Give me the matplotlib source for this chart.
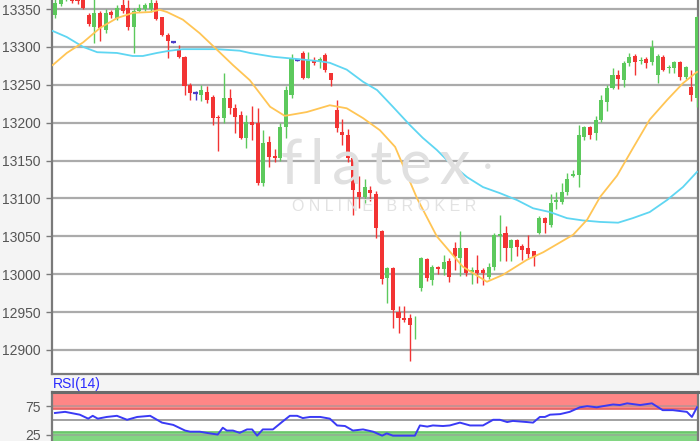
import matplotlib
matplotlib.use("Agg")
import matplotlib.pyplot as plt
import numpy as np

plt.rcParams['font.family'] = ['Liberation Sans', 'DejaVu Sans']

# candles (open / high / low / close), oldest first
opens = [13342, 13356, 13364, 13368, 13366, 13362, 13342, 13326, 13345, 13322,
         13346, 13338, 13355, 13351, 13326, 13348, 13350, 13350, 13358, 13339,
         13316, 13306, 13297, 13287, 13250, 13239, 13237, 13241, 13234, 13207,
         13206, 13233, 13220, 13210, 13180, 13201, 13199, 13120, 13175, 13156,
         13153, 13194, 13237, 13283, 13292, 13259, 13283, 13280, 13289, 13265,
         13217, 13188, 13184, 13153, 13108, 13102, 13111, 13106, 13057, 12995,
         13008, 12950, 12942, 12942, 12935, 12982, 13020, 12992, 13009, 13007,
         13018, 13035, 13021, 13034, 13003, 13006, 13005, 12996, 13010, 13050,
         13054, 13034, 13045, 13037, 13034, 13031, 13054, 13074, 13065, 13095,
         13095, 13109, 13130, 13131, 13181, 13194, 13186, 13203, 13227, 13246,
         13263, 13256, 13279, 13288, 13281, 13284, 13280, 13263, 13287, 13272,
         13272, 13280, 13260, 13247, 13232]
highs = [13368, 13370, 13378, 13372, 13369, 13364, 13345, 13365, 13348, 13350,
         13349, 13355, 13365, 13362, 13352, 13356, 13358, 13365, 13362, 13340,
         13318, 13307, 13302, 13288, 13252, 13242, 13250, 13249, 13236, 13210,
         13266, 13245, 13225, 13215, 13210, 13222, 13220, 13190, 13182, 13165,
         13199, 13248, 13290, 13284, 13294, 13293, 13287, 13287, 13292, 13266,
         13230, 13205, 13192, 13154, 13130, 13125, 13116, 13110, 13058, 13010,
         13009, 12958, 12958, 12948, 12945, 13023, 13021, 13012, 13011, 13026,
         13021, 13043, 13057, 13035, 13010, 13025, 13008, 13015, 13055, 13078,
         13063, 13046, 13046, 13040, 13052, 13031, 13077, 13076, 13106, 13108,
         13120, 13133, 13137, 13197, 13196, 13196, 13209, 13236, 13250, 13272,
         13270, 13281, 13292, 13291, 13287, 13287, 13309, 13291, 13289, 13276,
         13282, 13282, 13275, 13269, 13341]
lows = [13338, 13354, 13360, 13358, 13357, 13350, 13327, 13305, 13308, 13318,
        13338, 13335, 13345, 13322, 13292, 13346, 13347, 13346, 13335, 13314,
        13286, 13305, 13285, 13236, 13230, 13230, 13228, 13226, 13197, 13162,
        13200, 13212, 13186, 13178, 13166, 13177, 13118, 13116, 13141, 13148,
        13150, 13180, 13232, 13282, 13258, 13259, 13276, 13272, 13267, 13248,
        13188, 13170, 13148, 13078, 13088, 13094, 13096, 13048, 12987, 12962,
        12929, 12923, 12937, 12885, 12915, 12978, 12991, 12986, 13000, 12999,
        12990, 13006, 12998, 12998, 12987, 12988, 12986, 12994, 13006, 13018,
        13018, 13017, 13024, 13019, 13021, 13011, 13053, 13054, 13062, 13086,
        13093, 13105, 13128, 13115, 13177, 13178, 13177, 13201, 13216, 13244,
        13244, 13247, 13275, 13263, 13278, 13272, 13276, 13252, 13268, 13265,
        13265, 13256, 13258, 13229, 13221]
closes = [13358, 13364, 13370, 13361, 13360, 13352, 13330, 13345, 13325, 13345,
          13342, 13352, 13348, 13326, 13348, 13352, 13355, 13358, 13337, 13316,
          13308, 13306, 13287, 13248, 13239, 13239, 13243, 13230, 13206, 13206,
          13233, 13219, 13208, 13180, 13201, 13197, 13120, 13173, 13155, 13153,
          13194, 13243, 13285, 13283, 13259, 13283, 13279, 13284, 13269, 13256,
          13193, 13184, 13153, 13111, 13102, 13115, 13107, 13061, 12994, 13008,
          12953, 12942, 12940, 12933, 12936, 13021, 12995, 13009, 13007, 13016,
          12996, 13024, 13034, 13002, 13005, 13002, 13001, 13010, 13052, 13053,
          13034, 13045, 13036, 13032, 13027, 13023, 13074, 13068, 13094, 13098,
          13109, 13125, 13132, 13184, 13194, 13184, 13203, 13230, 13246, 13263,
          13258, 13279, 13287, 13280, 13283, 13279, 13300, 13288, 13270, 13274,
          13280, 13260, 13273, 13237, 13339]

# moving averages, sampled along the curves (x in candle units)
ma_fast_x = [-0.4, 2.1, 5.0, 8.0, 11.0, 13.9, 16.9, 18.6, 19.9, 22.7, 25.7, 28.8,
             31.6, 34.6, 38.2, 40.8, 44.7, 48.8, 51.8, 54.7, 57.7, 60.4, 64.3,
             67.8, 72.4, 76.7, 79.5, 83.8, 86.7, 92.0, 94.5, 96.8, 99.8, 102.6,
             105.6, 108.7, 111.5, 114.0]
ma_fast = [13276, 13292, 13306, 13325, 13338, 13345, 13346, 13349, 13346, 13336,
           13318, 13296, 13276, 13256, 13221, 13209, 13214, 13223, 13219, 13206,
           13190, 13168, 13100, 13050, 13010, 12990, 12999, 13019, 13029, 13052,
           13072, 13102, 13130, 13166, 13204, 13230, 13252, 13267]
ma_slow_x = [-0.4, 2.1, 5.0, 7.5, 11.0, 13.8, 15.6, 18.1, 20.4, 22.7, 28.8, 32.8,
             34.6, 38.7, 43.0, 47.1, 48.8, 51.8, 54.7, 57.2, 60.0, 63.0, 65.3,
             67.8, 70.1, 73.2, 76.0, 79.0, 82.0, 84.9, 87.9, 90.9, 93.7, 96.8,
             100.0, 102.6, 105.6, 108.7, 111.5, 114.0]
ma_slow = [13321, 13313, 13300, 13293, 13292, 13288, 13288, 13292, 13295, 13297,
           13297, 13295, 13292, 13287, 13284, 13281, 13279, 13270, 13254, 13243,
           13221, 13197, 13180, 13164, 13147, 13128, 13115, 13107, 13098, 13087,
           13082, 13074, 13071, 13069, 13068, 13074, 13082, 13098, 13115, 13135]

# RSI(14)
rsi_x = [0.0, 1.8, 4.4, 5.9, 6.7, 7.6, 9.2, 11.0, 12.8, 14.6, 16.9, 19.0, 21.0,
         23.1, 24.0, 25.7, 27.5, 28.9, 29.8, 30.5, 31.6, 32.8, 34.1, 35.0, 35.9,
         36.9, 38.7, 40.3, 41.7, 43.0, 44.0, 45.3, 47.1, 48.8, 50.1, 51.5, 52.9,
         54.7, 56.5, 58.1, 58.9, 60.0, 62.5, 63.9, 64.8, 66.1, 67.1, 68.9, 70.1,
         71.9, 73.7, 76.0, 77.8, 79.0, 80.3, 81.3, 83.8, 84.9, 86.1, 87.0, 87.9,
         89.7, 91.4, 93.2, 94.5, 96.2, 97.3, 99.1, 100.3, 101.6, 103.9, 106.0,
         107.9, 109.7, 112.2, 113.1, 114.0]
rsi_vals = [63, 65, 60, 53, 58, 53, 56, 58, 51, 56, 58, 46, 42, 32, 30, 30, 27, 25,
            37, 32, 32, 28, 34, 34, 23, 34, 34, 47, 58, 58, 54, 56, 56, 53, 41, 40,
            32, 34, 30, 23, 27, 23, 23, 23, 41, 39, 41, 40, 41, 46, 41, 41, 51, 51,
            47, 49, 47, 46, 56, 56, 60, 61, 65, 73, 75, 73, 75, 78, 77, 80, 77, 80,
            68, 68, 65, 56, 73]

price_ticks = [12900, 12950, 13000, 13050, 13100, 13150, 13200, 13250, 13300, 13350]
rsi_ticks = [25, 75]

W, H = 700, 441


def px_box(left, top, right, bottom):
    # pixel box -> figure fraction [l, b, w, h]
    return [left / W, (H - bottom) / H, (right - left) / W, (bottom - top) / H]


def style_axis(ax):
    for side in ("top", "right", "left", "bottom"):
        ax.spines[side].set_color("#7a7a7a")
        ax.spines[side].set_linewidth(1.6)
    ax.tick_params(axis="y", length=4, width=1, color="#7a7a7a",
                   labelsize=10, labelcolor="#555555", pad=4)
    ax.tick_params(axis="x", bottom=False, labelbottom=False)


def draw_candles(ax):
    o = np.array(opens, dtype=float)
    h = np.array(highs, dtype=float)
    l = np.array(lows, dtype=float)
    c = np.array(closes, dtype=float)
    x = np.arange(len(o))
    cols = np.where(c > o, "#5cc95c", "#f23333")
    flat = c == o
    cols = np.where(flat, "#4b3cc8", cols)

    ax.vlines(x, l, h, colors=cols, lw=1.0, zorder=3)
    ax.bar(x[~flat], np.abs(c - o)[~flat], bottom=np.minimum(o, c)[~flat],
           width=0.72, color=cols[~flat], linewidth=0, zorder=4)
    ax.hlines(c[flat], x[flat] - 0.45, x[flat] + 0.45, colors="#4b3cc8", lw=1.6, zorder=4)


def main() -> None:
    fig = plt.figure(figsize=(W / 100, H / 100), dpi=100, facecolor="#f4f4f4")

    # price panel
    ax = fig.add_axes(px_box(52, 0, 698, 374), facecolor="white")
    n = len(opens)
    ax.set_xlim(-0.53, n - 1 + 0.18)
    ax.set_ylim(12868.3, 13361.9)
    ax.set_yticks(price_ticks)
    ax.yaxis.grid(True, color="#ababab", lw=1.6, zorder=1)
    ax.set_axisbelow(True)
    style_axis(ax)
    ax.spines["top"].set_visible(False)

    # watermark
    fig.text(281 / W, (H - 183) / H, "f\u2009l\u2009a\u2009t\u2009e\u2009x", fontsize=44,
             family=["Lato", "DejaVu Sans"], color="#e0e0e0", ha="left", va="baseline",
             zorder=0.5)
    fig.text(488 / W, (H - 167) / H, "\u25cf", fontsize=9, color="#e0e0e0",
             ha="center", va="center", zorder=0.5)
    fig.text(384 / W, (H - 207) / H, "O N L I N E   B R O K E R", fontsize=11.5,
             color="#e2e2e2", ha="center", va="center", zorder=0.5)

    draw_candles(ax)
    ax.plot(ma_slow_x, ma_slow, color="#5fd6f2", lw=1.3, zorder=5)
    ax.plot(ma_fast_x, ma_fast, color="#ffc555", lw=1.3, zorder=5)

    # RSI panel
    ax2 = fig.add_axes(px_box(52, 392, 698, 448.7), facecolor="white")
    ax2.set_xlim(ax.get_xlim())
    ax2.set_ylim(0, 100)
    ax2.axhspan(70, 100, facecolor="#ff8686", edgecolor="#e26060", lw=1.2, zorder=1)
    ax2.axhspan(0, 30, facecolor="#82d682", edgecolor="#66c266", lw=1.2, zorder=1)
    for lvl in (25, 50, 75):
        ax2.axhline(lvl, color="#9a9a9a", lw=1.3, alpha=0.6 if lvl != 50 else 1.0, zorder=2)
    ax2.plot(rsi_x, rsi_vals, color="#3a3af5", lw=1.4, zorder=4)
    ax2.set_yticks(rsi_ticks)
    style_axis(ax2)
    ax2.spines["top"].set_linewidth(2.2)
    ax2.spines["top"].set_color("#6a6a6a")

    fig.text(53 / W, (H - 384) / H, "RSI(14)", fontsize=10, color="#2a2aff",
             ha="left", va="center")

    fig.savefig("out.png", dpi=100, facecolor=fig.get_facecolor())
    plt.close(fig)


if __name__ == "__main__":
    main()
